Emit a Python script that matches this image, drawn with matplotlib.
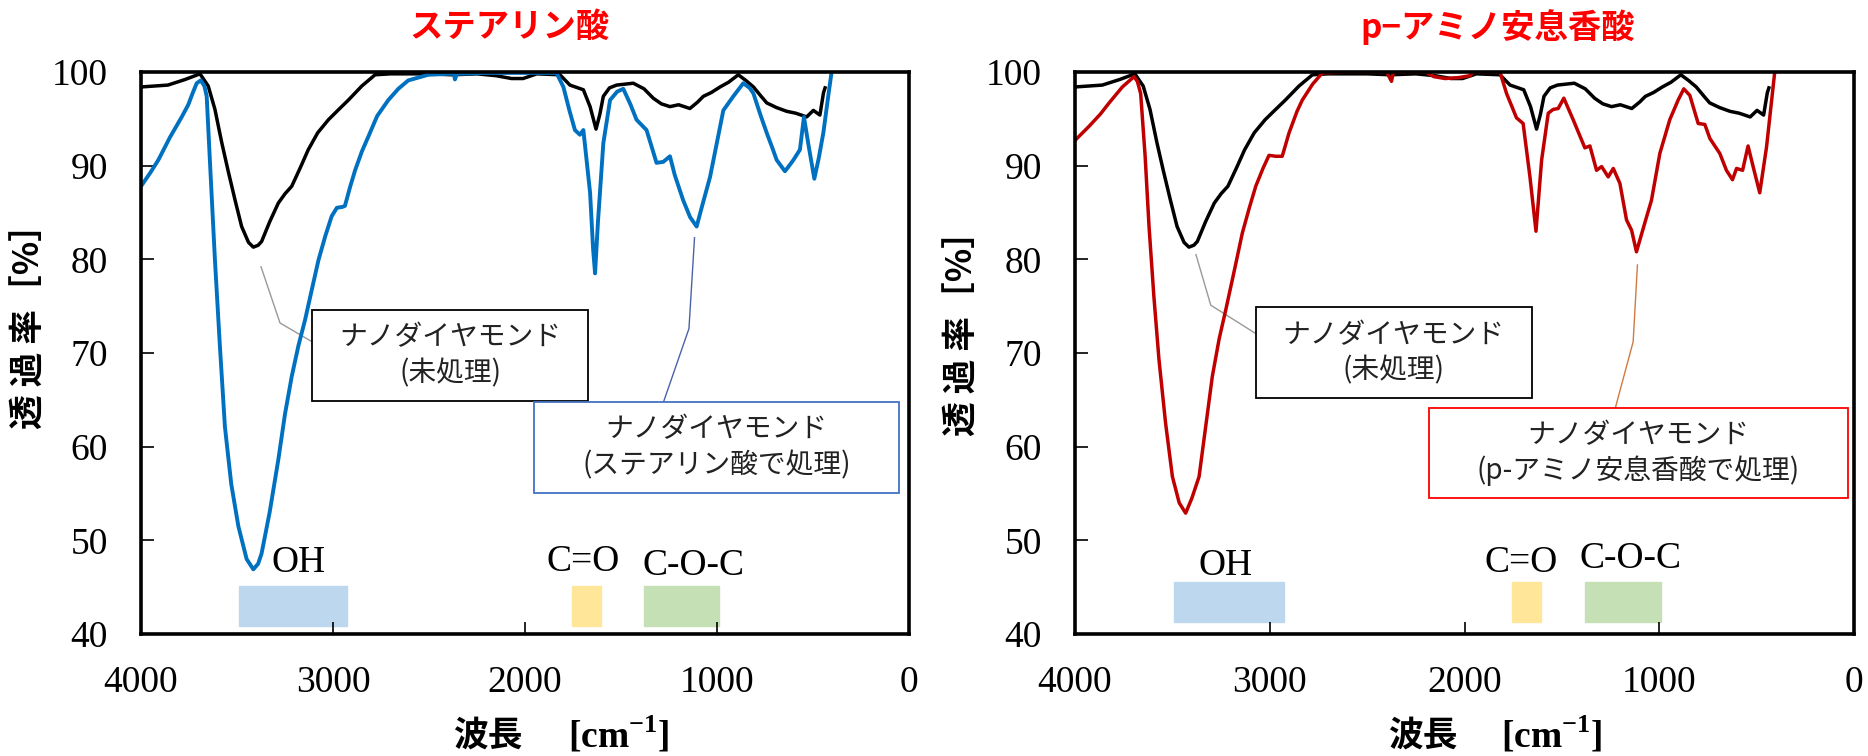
import numpy as np
import matplotlib
matplotlib.use("Agg")
import matplotlib.pyplot as plt
from matplotlib.patches import Rectangle

plt.rcParams['font.family'] = ['Noto Sans CJK JP', 'DejaVu Sans']
plt.rcParams['mathtext.fontset'] = 'custom'
plt.rcParams['mathtext.rm'] = 'Liberation Serif'
plt.rcParams['mathtext.bf'] = 'Liberation Serif:bold'

SERIF = 'Liberation Serif'
JP = ['Noto Sans CJK JP', 'DejaVu Sans']

# untreated nanodiamond (same spectrum on both panels)
wn_raw = [4000, 3930, 3860, 3770, 3693, 3650, 3615, 3580, 3547, 3510, 3476, 3440,
          3415, 3390, 3372, 3330, 3285, 3250, 3215, 3170, 3129, 3080, 3024, 2970,
          2920, 2850, 2781, 2700, 2500, 2380, 2250, 2150, 2070, 2010, 1939, 1818,
          1766, 1696, 1661, 1630, 1610, 1592, 1560, 1523, 1436, 1380, 1332, 1290,
          1245, 1200, 1141, 1100, 1071, 1030, 984, 940, 889, 850, 810, 770, 741,
          690, 637, 590, 533, 498, 464, 445, 437]
t_raw = [98.4, 98.5, 98.6, 99.2, 99.8, 98.5, 96.0, 92.5, 89.5, 86.3, 83.5, 81.8,
         81.3, 81.5, 81.9, 84.0, 86.0, 87.0, 87.8, 89.8, 91.7, 93.5, 94.9, 96.0,
         97.0, 98.5, 99.7, 99.8, 99.8, 99.7, 99.8, 99.6, 99.3, 99.3, 99.8, 99.7,
         98.6, 98.1, 96.3, 93.9, 95.5, 97.4, 98.3, 98.6, 98.8, 98.2, 97.2, 96.6,
         96.3, 96.5, 96.1, 96.8, 97.4, 97.8, 98.4, 98.9, 99.7, 99.1, 98.4, 97.4, 96.7,
         96.2, 95.8, 95.6, 95.2, 95.9, 95.4, 97.8, 98.3]

# treated with stearic acid
wn_st = [4000, 3950, 3910, 3850, 3788, 3754, 3730, 3710, 3689, 3670, 3658, 3640,
         3615, 3590, 3563, 3530, 3493, 3450, 3415, 3390, 3372, 3330, 3285, 3250,
         3215, 3180, 3146, 3110, 3076, 3040, 3007, 2980, 2950, 2938, 2910, 2885,
         2850, 2816, 2770, 2712, 2660, 2608, 2504, 2400, 2370, 2365, 2355, 2200,
         2026, 1836, 1800, 1770, 1740, 1714, 1696, 1661, 1645, 1635, 1620, 1592,
         1557, 1520, 1488, 1450, 1419, 1367, 1340, 1315, 1280, 1245, 1220, 1176,
         1140, 1106, 1080, 1036, 1000, 967, 915, 863, 830, 810, 775, 741, 710, 689,
         646, 620, 602, 568, 547, 525, 493, 470, 446, 420, 403]
t_st = [87.8, 89.3, 90.6, 93.0, 95.2, 96.5, 97.8, 98.8, 99.1, 98.5, 97.4, 90.0,
        79.9, 71.0, 62.1, 56.0, 51.5, 48.0, 46.9, 47.5, 48.6, 53.0, 58.6, 63.5,
        67.5, 70.8, 73.5, 76.8, 79.9, 82.5, 84.6, 85.5, 85.6, 85.7, 87.8, 89.5,
        91.5, 93.1, 95.3, 97.0, 98.2, 99.1, 99.7, 99.8, 99.8, 99.2, 99.8, 99.9,
        99.9, 99.9, 98.4, 96.0, 93.8, 93.3, 93.8, 87.1, 81.0, 78.5, 84.0, 92.4,
        97.0, 97.9, 98.2, 96.5, 94.9, 93.8, 92.0, 90.3, 90.4, 91.0, 89.0, 86.3,
        84.5, 83.5, 85.5, 88.8, 92.5, 95.9, 97.4, 98.8, 98.3, 97.7, 95.5, 93.5, 91.8, 90.6,
        89.4, 90.1, 90.6, 91.7, 95.2, 92.4, 88.6, 90.8, 93.5, 97.5, 100.0]

# treated with p-aminobenzoic acid
wn_pa = [4000, 3928, 3870, 3825, 3757, 3697, 3680, 3663, 3640, 3620, 3595, 3569,
         3535, 3500, 3465, 3432, 3400, 3363, 3330, 3295, 3260, 3226, 3180, 3141,
         3105, 3072, 3035, 3004, 2970, 2936, 2901, 2860, 2833, 2780, 2730, 2600,
         2400, 2375, 2365, 2200, 2157, 2100, 2030, 1972, 1957, 1818, 1784, 1733,
         1699, 1664, 1633, 1604, 1570, 1545, 1519, 1490, 1442, 1410, 1382, 1356,
         1322, 1296, 1262, 1236, 1202, 1168, 1142, 1117, 1074, 1040, 997, 946, 903,
         874, 843, 800, 766, 740, 689, 655, 624, 603, 572, 544, 518, 484, 449, 407]
t_pa = [92.7, 94.2, 95.5, 96.7, 98.4, 99.5, 99.0, 97.7, 91.0, 83.5, 76.0, 69.3,
        62.5, 56.8, 54.0, 52.9, 54.5, 56.8, 62.0, 67.5, 71.5, 74.6, 79.0, 82.8,
        85.5, 87.8, 89.7, 91.1, 91.0, 91.0, 93.5, 95.8, 97.0, 98.7, 99.9, 100.0,
        100.0, 99.0, 100.0, 100.0, 99.5, 99.3, 99.4, 99.6, 100.0, 100.0, 97.7, 95.1,
        94.5, 88.8, 83.0, 90.6, 95.6, 96.0, 96.1, 97.2, 94.9, 93.3, 91.9, 92.1,
        89.5, 89.9, 88.8, 89.7, 88.1, 84.2, 83.1, 80.8, 83.9, 86.3, 91.3, 94.9, 97.0,
        98.2, 97.5, 94.5, 94.4, 92.9, 91.3, 89.5, 88.5, 89.7, 89.5, 92.1, 89.9, 87.1, 92.0, 100.0]

titles = ['ステアリン酸', 'p−アミノ安息香酸']
treated_labels = ['ナノダイヤモンド\n(ステアリン酸で処理)', 'ナノダイヤモンド\n(p-アミノ安息香酸で処理)']
raw_label = 'ナノダイヤモンド\n(未処理)'
xticks = [4000, 3000, 2000, 1000, 0]
yticks = [40, 50, 60, 70, 80, 90, 100]

# functional group bands (wavenumber ranges)
band_names = ['OH', 'C=O', 'C-O-C']
band_ranges = [(3490, 2925), (1755, 1605), (1380, 990)]
band_colors = ['#bdd7ee', '#ffe699', '#c5e0b4']

fig = plt.figure(figsize=(18.68, 7.56), dpi=100)
ax1 = fig.add_axes([0.0755, 0.1614, 0.4111, 0.7434])
ax2 = fig.add_axes([0.5755, 0.1614, 0.4170, 0.7434])

panels = [
    dict(ax=ax1, wn=wn_st, t=t_st, color='#0070c0', lw=2.8, title_x=0.48, ylab_y=0.564,
         box_edge='#4472c4', lead_col='#4a62a8',
         raw_box=(3109, 74.6, 1672, 64.9), tr_box=(1951, 64.8, 52, 55.1),
         raw_lead=[(3375, 79.2), (3276, 73.2), (3109, 71.2)],
         tr_lead=[(1117, 82.3), (1146, 72.6), (1278, 64.8)],
         lab_pos=[(3177, 47.6), (1698, 47.7), (1122, 47.3)],
         band_y=(40.9, 45.1), xl=(0.452, 0.622)),
    dict(ax=ax2, wn=wn_pa, t=t_pa, color='#c00000', lw=2.5, title_x=0.542, ylab_y=0.55,
         box_edge='#ff0000', lead_col='#d07a40',
         raw_box=(3071, 74.9, 1656, 65.2), tr_box=(2183, 64.1, 33, 54.5),
         raw_lead=[(3379, 80.5), (3303, 75.1), (3074, 72.1)],
         tr_lead=[(1112, 79.4), (1134, 71.2), (1226, 64.1)],
         lab_pos=[(3226, 47.3), (1709, 47.6), (1149, 48.0)],
         band_y=(41.3, 45.5), xl=(0.447, 0.612)),
]

for i, p in enumerate(panels):
    ax = p['ax']
    ax.set_xlim(4000, 0)
    ax.set_ylim(40, 100)

    # bands
    for (x0, x1), c in zip(band_ranges, band_colors):
        ax.add_patch(Rectangle((x1, p['band_y'][0]), x0 - x1, p['band_y'][1] - p['band_y'][0],
                               facecolor=c, edgecolor=c, lw=1, zorder=1))
    for name, (lx, ly) in zip(band_names, p['lab_pos']):
        ax.text(lx, ly, name, fontsize=27, family=SERIF, ha='center', va='center', zorder=5)

    ax.plot(wn_raw, t_raw, color='black', lw=2.5, zorder=3)
    ax.plot(p['wn'], p['t'], color=p['color'], lw=p['lw'], zorder=4)

    # leader lines
    lx, ly = zip(*p['raw_lead'])
    ax.plot(lx, ly, color='#999999', lw=1.0, zorder=2)
    lx, ly = zip(*p['tr_lead'])
    ax.plot(lx, ly, color=p['lead_col'], lw=1.0, zorder=2)

    # text boxes
    for box, txt, ec in [(p['raw_box'], raw_label, 'black'),
                         (p['tr_box'], treated_labels[i], p['box_edge'])]:
        xa, ya, xb, yb = box
        ax.add_patch(Rectangle((xb, yb), xa - xb, ya - yb, facecolor='white',
                               edgecolor=ec, lw=1.3, zorder=6))
        ax.text((xa + xb) / 2, (ya + yb) / 2, txt, fontsize=20, family=JP, color='#222222',
                ha='center', va='center', linespacing=1.25, zorder=7)

    ax.set_xticks(xticks)
    ax.set_yticks(yticks)
    ax.tick_params(direction='in', length=9, width=1.2, pad=23, labelsize=27)
    ax.tick_params(axis='y', pad=24)
    for lab in ax.get_xticklabels() + ax.get_yticklabels():
        lab.set_family(SERIF)
    for s in ax.spines.values():
        s.set_linewidth(2.6)
        s.set_zorder(5)

    ax.text(p['title_x'], 1.08, titles[i], transform=ax.transAxes, fontsize=24,
            fontweight='bold', color='#ff0000', ha='center', va='center', family=JP)
    ax.text(-0.145, p['ylab_y'], '透 過 率［%］', transform=ax.transAxes, rotation=90,
            fontsize=25, fontweight='bold', ha='center', va='center', family=JP)
    ax.text(p['xl'][0], -0.18, '波長', transform=ax.transAxes, fontsize=25,
            fontweight='bold', ha='center', va='center', family=JP)
    ax.text(p['xl'][1], -0.18, '[cm$^{\\mathbf{-1}}$]', transform=ax.transAxes, fontsize=27,
            fontweight='bold', ha='center', va='center', family=SERIF)

fig.savefig('out.png', dpi=100)
